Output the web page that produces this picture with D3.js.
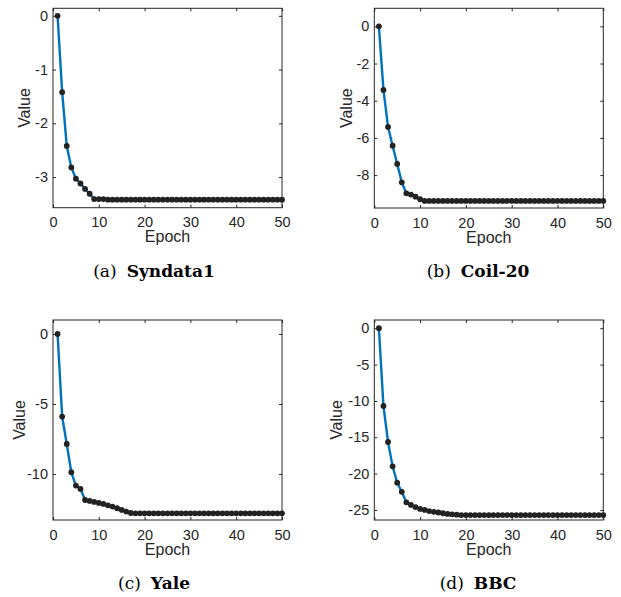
<!DOCTYPE html>
<html>
<head>
<meta charset="utf-8">
<script src="https://cdn.jsdelivr.net/npm/d3@7"></script>
<style>
  body { margin: 0; background: #fff; }
  svg { display: block; }
  .tick text { font-family: "Liberation Sans", Arial, Helvetica, sans-serif; font-size: 14.5px; fill: #262626; }
  .tick line { stroke: #262626; }
  .axis-label { font-family: "Liberation Sans", Arial, Helvetica, sans-serif; font-size: 16px; fill: #262626; }
  .caption { font-family: "DejaVu Serif", serif; font-size: 17px; fill: #000; }
</style>
</head>
<body>
<svg width="621" height="597"></svg>
<script>
'use strict';

// epochs on the x axis
var epochs = d3.range(1, 51);
var xTicks = [0, 10, 20, 30, 40, 50];

// objective value per epoch
var syndata1 = [0, -1.42, -2.42, -2.82, -3.03, -3.12, -3.22, -3.31, -3.41, -3.41,
    -3.41, -3.42, -3.42, -3.42, -3.42, -3.42, -3.42, -3.42, -3.42, -3.42,
    -3.42, -3.42, -3.42, -3.42, -3.42, -3.42, -3.42, -3.42, -3.42, -3.42,
    -3.42, -3.42, -3.42, -3.42, -3.42, -3.42, -3.42, -3.42, -3.42, -3.42,
    -3.42, -3.42, -3.42, -3.42, -3.42, -3.42, -3.42, -3.42, -3.42, -3.42];
var coil20 = [0, -3.42, -5.41, -6.42, -7.40, -8.39, -8.98, -9.05, -9.16, -9.30,
    -9.39, -9.39, -9.39, -9.39, -9.39, -9.39, -9.39, -9.39, -9.39, -9.39,
    -9.39, -9.39, -9.39, -9.39, -9.39, -9.39, -9.39, -9.39, -9.39, -9.39,
    -9.39, -9.39, -9.39, -9.39, -9.39, -9.39, -9.39, -9.39, -9.39, -9.39,
    -9.39, -9.39, -9.39, -9.39, -9.39, -9.39, -9.39, -9.39, -9.39, -9.39];
var yale = [0, -5.90, -7.86, -9.88, -10.83, -11.07, -11.86, -11.93, -12.00, -12.07,
    -12.14, -12.24, -12.33, -12.45, -12.57, -12.69, -12.79, -12.81, -12.81, -12.81,
    -12.81, -12.81, -12.81, -12.81, -12.81, -12.81, -12.81, -12.81, -12.81, -12.81,
    -12.81, -12.81, -12.81, -12.81, -12.81, -12.81, -12.81, -12.81, -12.81, -12.81,
    -12.81, -12.81, -12.81, -12.81, -12.81, -12.81, -12.81, -12.81, -12.81, -12.81];
var bbc = [0, -10.70, -15.65, -19.00, -21.25, -22.50, -23.95, -24.30, -24.60, -24.85,
    -25.00, -25.15, -25.25, -25.35, -25.45, -25.55, -25.60, -25.65, -25.70, -25.70,
    -25.70, -25.70, -25.70, -25.70, -25.70, -25.70, -25.70, -25.70, -25.70, -25.70,
    -25.70, -25.70, -25.70, -25.70, -25.70, -25.70, -25.70, -25.70, -25.70, -25.70,
    -25.70, -25.70, -25.70, -25.70, -25.70, -25.70, -25.70, -25.70, -25.70, -25.70];

// y ticks per panel
var syndata1Ticks = [0, -1, -2, -3];
var coil20Ticks = [0, -2, -4, -6, -8];
var yaleTicks = [0, -5, -10];
var bbcTicks = [0, -5, -10, -15, -20, -25];

// captions
var captionTags = ['(a)', '(b)', '(c)', '(d)'];
var captionNames = ['Syndata1', 'Coil-20', 'Yale', 'BBC'];

// 版面
var panels = [
    { values: syndata1, ticks: syndata1Ticks, yDomain: [-3.57, 0.14], x0: 53, x1: 282, y0: 8.3, y1: 207.7, labelX: 30, capX: 154, capY: 277 },
    { values: coil20, ticks: coil20Ticks, yDomain: [-9.77, 0.97], x0: 374.3, x1: 603.3, y0: 8.3, y1: 208, labelX: 351.7, capX: 478, capY: 277 },
    { values: yale, ticks: yaleTicks, yDomain: [-13.29, 1], x0: 53, x1: 282, y0: 320, y1: 520, labelX: 25, capX: 154, capY: 589 },
    { values: bbc, ticks: bbcTicks, yDomain: [-26.38, 1.13], x0: 374.3, x1: 603.3, y0: 320, y1: 520, labelX: 342.3, capX: 478, capY: 589 }
];

var tickLen = 3;
var svg = d3.select('svg');

panels.forEach(function (p, i) {
    var x = d3.scaleLinear().domain([0, 50]).range([p.x0, p.x1]);
    var y = d3.scaleLinear().domain(p.yDomain).range([p.y1, p.y0]);
    var g = svg.append('g');

    // 刻度 (inward, mirrored on all four sides)
    g.append('g').attr('transform', 'translate(0,' + p.y1 + ')')
        .call(d3.axisBottom(x).tickValues(xTicks).tickSize(-tickLen).tickPadding(9.5).tickFormat(d3.format('d')));
    g.append('g').attr('transform', 'translate(0,' + p.y0 + ')')
        .call(d3.axisTop(x).tickValues(xTicks).tickSize(-tickLen).tickFormat(''));
    g.append('g').attr('transform', 'translate(' + p.x0 + ',0)')
        .call(d3.axisLeft(y).tickValues(p.ticks).tickSize(-tickLen).tickPadding(5).tickFormat(function (d) { return String(d); }));
    g.append('g').attr('transform', 'translate(' + p.x1 + ',0)')
        .call(d3.axisRight(y).tickValues(p.ticks).tickSize(-tickLen).tickFormat(''));
    g.selectAll('.domain').remove();

    // 外框
    g.append('rect')
        .attr('x', p.x0).attr('y', p.y0)
        .attr('width', p.x1 - p.x0).attr('height', p.y1 - p.y0)
        .attr('fill', 'none').attr('stroke', '#262626').attr('stroke-width', 1);

    // 曲线
    g.append('path')
        .datum(p.values)
        .attr('fill', 'none')
        .attr('stroke', '#0072BD')
        .attr('stroke-width', 2.4)
        .attr('stroke-linejoin', 'round')
        .attr('d', d3.line().x(function (d, j) { return x(epochs[j]); }).y(function (d) { return y(d); }));

    g.append('g').selectAll('circle')
        .data(p.values)
        .enter()
            .append('circle')
            .attr('cx', function (d, j) { return x(epochs[j]); })
            .attr('cy', function (d) { return y(d); })
            .attr('r', 2.9)
            .attr('fill', '#222');

    // 轴标题
    g.append('text').attr('class', 'axis-label')
        .attr('x', (p.x0 + p.x1) / 2).attr('y', p.y1 + 34.5)
        .attr('text-anchor', 'middle')
        .text('Epoch');
    g.append('text').attr('class', 'axis-label')
        .attr('transform', 'translate(' + p.labelX + ',' + ((p.y0 + p.y1) / 2) + ') rotate(-90)')
        .attr('text-anchor', 'middle')
        .text('Value');

    // 子图标题
    var cap = g.append('text').attr('class', 'caption')
        .attr('x', p.capX).attr('y', p.capY)
        .attr('text-anchor', 'middle');
    cap.append('tspan').text(captionTags[i]);
    cap.append('tspan').attr('dx', 10).attr('font-weight', 'bold').text(captionNames[i]);
});
</script>
</body>
</html>
